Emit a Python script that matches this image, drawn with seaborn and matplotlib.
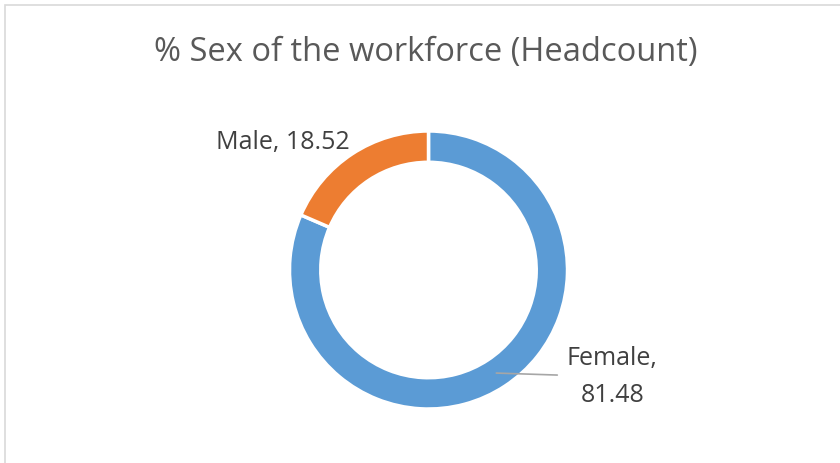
import numpy as np
import matplotlib
matplotlib.use("Agg")
import matplotlib.pyplot as plt
from matplotlib.patches import Rectangle
import seaborn as sns

sns.set_theme(style="white")
plt.rcParams['font.family'] = ['Open Sans', 'DejaVu Sans']

# data
categories = ["Female", "Male"]
values = [81.48, 18.52]
colors = ["#5B9BD5", "#ED7D31"]
title = "% Sex of the workforce (Headcount)"

W, H = 840, 464
fig = plt.figure(figsize=(W / 100, H / 100), dpi=100)
ax = fig.add_axes([0, 0, 1, 1])

# chart border (right/bottom run off the image like the original)
fig.patches.append(Rectangle((5 / W, -0.02), 1.1, (H - 6) / H + 0.02,
                             transform=fig.transFigure, fill=False,
                             edgecolor="#D9D9D9", linewidth=1.2))

cx, cy, R = 428.5, H - 271, 139
ring = 0.225
wedges, _ = ax.pie(values, colors=colors, startangle=90, counterclock=False,
                   radius=R, center=(cx, cy), frame=True,
                   wedgeprops=dict(width=R * ring, edgecolor="white", linewidth=2.5))
ax.set_xlim(0, W)
ax.set_ylim(0, H)
ax.set_aspect("equal")
ax.axis("off")

ax.text(426, H - 52, title, ha="center", va="center",
        fontsize=23.5, color="#595959")

label_color = "#404040"
rmid = R * (1 - ring / 2)
for w, name, v in zip(wedges, categories, values):
    ang = np.deg2rad((w.theta1 + w.theta2) / 2)
    px, py = cx + rmid * np.cos(ang), cy + rmid * np.sin(ang)
    if name == "Female":
        ax.plot([px, px + 61], [py, py - 2], color="#A6A6A6", lw=1.2)
        ax.text(px + 116, py - 3, f"{name},\n{v:.2f}", ha="center", va="center",
                fontsize=18, color=label_color, linespacing=1.6)
    else:
        ax.text(px - 11, H - 142, f"{name}, {v:.2f}", ha="right", va="center",
                fontsize=18, color=label_color)

fig.savefig("out.png", dpi=100)
